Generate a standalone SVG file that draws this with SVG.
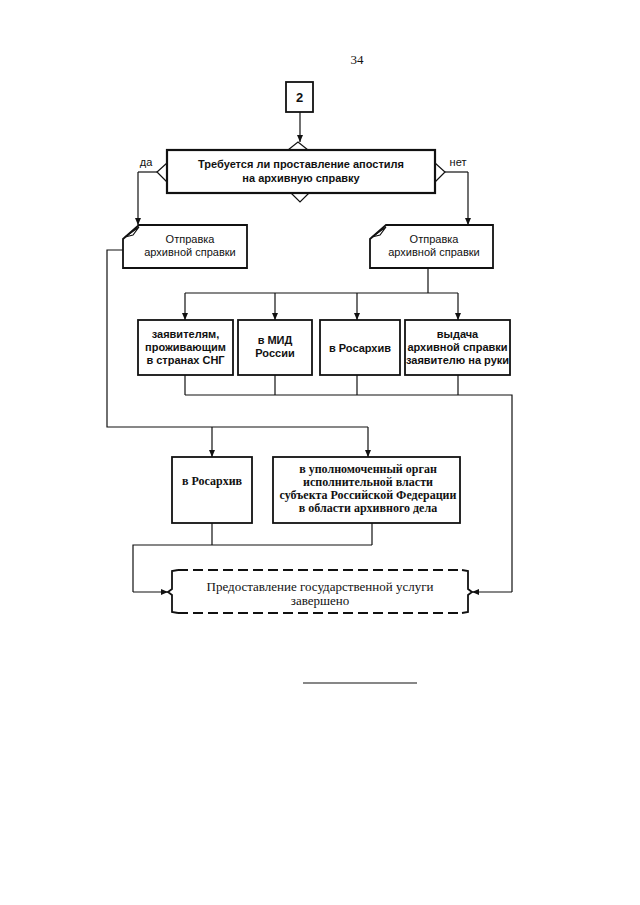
<svg xmlns="http://www.w3.org/2000/svg" width="640" height="905" viewBox="0 0 640 905">
<defs>
<marker id="ah" markerWidth="8" markerHeight="8" refX="7" refY="4" orient="auto" markerUnits="userSpaceOnUse">
<path d="M0,1 L7,4 L0,7 Z" fill="#111"/>
</marker>
<style>
.box{fill:#fff;stroke:#111;stroke-width:1.8}
.dec{fill:#fff;stroke:#111;stroke-width:2.2}
.ln{fill:none;stroke:#111;stroke-width:1.2}
.ar{fill:none;stroke:#111;stroke-width:1.2;marker-end:url(#ah)}
.dash{fill:none;stroke:#111;stroke-width:1.8;stroke-dasharray:10 5}
.s{font-family:"Liberation Sans",Arial,sans-serif;font-size:11px;font-weight:bold;fill:#111;text-anchor:middle}
.r{font-family:"Liberation Serif","Times New Roman",serif;font-size:12px;font-weight:bold;fill:#111;text-anchor:middle}
.rn{font-family:"Liberation Serif","Times New Roman",serif;font-size:13px;fill:#111;text-anchor:middle}
</style>
</defs>
<rect width="640" height="905" fill="#fff"/>
<text class="rn" x="357" y="64">34</text>

<g id="connectors">
<path class="ar" d="M300,112 L300,142"/>
<path class="ln" d="M157,172 L138,172"/>
<path class="ar" d="M138,172 L138,225"/>
<path class="ln" d="M445,172 L468,172"/>
<path class="ar" d="M468,172 L468,225"/>
<path class="ln" d="M428,268 L428,293 M185,293 L458,293"/>
<path class="ar" d="M185,293 L185,320"/>
<path class="ar" d="M275,293 L275,320"/>
<path class="ar" d="M357,293 L357,320"/>
<path class="ar" d="M458,293 L458,320"/>
<path class="ln" d="M185,375 L185,395 M275,375 L275,395 M357,375 L357,395 M458,375 L458,395 M185,395 L512,395 L512,592"/>
<path class="ar" d="M512,592 L472,592"/>
<path class="ln" d="M123,250 L107,250 L107,427 L368,427"/>
<path class="ar" d="M212,427 L212,457"/>
<path class="ar" d="M368,427 L368,457"/>
<path class="ln" d="M212,523 L212,545 M372,523 L372,545 M372,545 L133,545 L133,592"/>
<path class="ar" d="M133,592 L168,592"/>
</g>

<g id="start">
<rect class="box" x="286" y="82" width="27" height="30"/>
<text class="s" x="299.5" y="102" style="font-size:13px">2</text>
</g>

<g id="decision">
<path class="ln" d="M288,150 L298,142 L308,150"/>
<path class="ln" d="M291,193 L300,202 L309,193"/>
<path class="ln" d="M167,163 L157,172 L167,182"/>
<path class="ln" d="M435,163 L445,172 L435,182"/>
<rect class="dec" x="167" y="150" width="268" height="43"/>
<text class="s" x="301" y="168">Требуется ли проставление апостиля</text>
<text class="s" x="301" y="182">на архивную справку</text>
<text class="s" x="146" y="166" style="font-weight:normal">да</text>
<text class="s" x="458" y="166" style="font-weight:normal">нет</text>
</g>

<g id="send-left">
<path class="box" d="M139,225 L247,225 L247,268 L123,268 L123,239 Z"/>
<path class="ln" d="M125,237 L139,227 L133,235 Z"/>
<text class="s" x="190" y="243" style="font-weight:normal">Отправка</text>
<text class="s" x="190" y="256" style="font-weight:normal">архивной справки</text>
</g>

<g id="send-right">
<path class="box" d="M386,225 L493,225 L493,268 L370,268 L370,239 Z"/>
<path class="ln" d="M372,237 L386,227 L380,235 Z"/>
<text class="s" x="434" y="243" style="font-weight:normal">Отправка</text>
<text class="s" x="434" y="256" style="font-weight:normal">архивной справки</text>
</g>

<g id="cis">
<rect class="box" x="138" y="320" width="95" height="55"/>
<text class="s" x="185.5" y="338">заявителям,</text>
<text class="s" x="185.5" y="351">проживающим</text>
<text class="s" x="185.5" y="364">в странах СНГ</text>
</g>

<g id="mid">
<rect class="box" x="238" y="320" width="74" height="55"/>
<text class="s" x="275" y="344">в МИД</text>
<text class="s" x="275" y="357">России</text>
</g>

<g id="rosarchiv1">
<rect class="box" x="320" y="320" width="80" height="55"/>
<text class="s" x="360" y="352">в Росархив</text>
</g>

<g id="handover">
<rect class="box" x="405" y="320" width="105" height="55"/>
<text class="s" x="457.5" y="338">выдача</text>
<text class="s" x="457.5" y="351">архивной справки</text>
<text class="s" x="457.5" y="364">заявителю на руки</text>
</g>

<g id="rosarchiv2">
<rect class="box" x="172" y="457" width="80" height="66"/>
<text class="r" x="212" y="485">в Росархив</text>
</g>

<g id="authority">
<rect class="box" x="273" y="457" width="187" height="66"/>
<text class="r" x="368" y="473">в уполномоченный орган</text>
<text class="r" x="368" y="486">исполнительной власти</text>
<text class="r" x="368" y="499">субъекта Российской Федерации</text>
<text class="r" x="368" y="512">в области архивного дела</text>
</g>

<g id="end">
<path class="dash" d="M178,570 L462,570 M178,613 L462,613"/>
<path class="ln" style="stroke-width:1.8" d="M178,570 L172,571 L172,589 L168,592 L172,595 L172,612 L178,613"/>
<path class="ln" style="stroke-width:1.8" d="M462,570 L468,571 L468,589 L472,592 L468,595 L468,612 L462,613"/>
<text class="rn" x="320" y="591">Предоставление государственной услуги</text>
<text class="rn" x="320" y="605">завершено</text>
</g>

<line class="ln" x1="303" y1="683" x2="417" y2="683"/>
</svg>
